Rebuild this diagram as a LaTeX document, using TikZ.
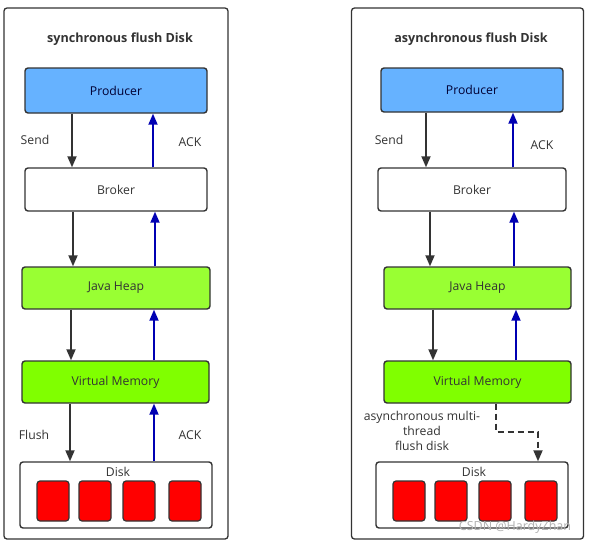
\documentclass[tikz,border=0pt]{standalone}
\usepackage{fontspec}
\setmainfont{Open Sans}
\usetikzlibrary{arrows.meta}
\definecolor{prodblue}{HTML}{66B2FF}
\definecolor{heapgreen}{HTML}{99FF33}
\definecolor{vmgreen}{HTML}{80FF00}
\definecolor{edge}{HTML}{333333}
\definecolor{ackblue}{HTML}{0000B3}
\definecolor{diskred}{HTML}{FF0000}
\tikzset{
  panel/.style={draw=edge, line width=1.3pt, rounded corners=3pt, fill=white},
  box/.style={draw=edge, line width=1.4pt, rounded corners=3pt, inner sep=0pt, font=\fontsize{12.2}{14}\selectfont, text=edge},
  redbox/.style={draw=edge, line width=1.2pt, rounded corners=3pt, fill=diskred, inner sep=0pt, minimum width=32pt, minimum height=40pt},
  downarr/.style={draw=edge, line width=1.8pt, -{Triangle[length=11pt,width=9pt]}},
  uparr/.style={draw=ackblue, line width=1.8pt, -{Triangle[length=11pt,width=9pt]}},
  lbl/.style={font=\fontsize{12.2}{14}\selectfont, text=edge, inner sep=0pt},
  ttl/.style={font=\bfseries\fontsize{12.6}{14}\selectfont, text=edge, inner sep=0pt},
}
\begin{document}
\begin{tikzpicture}[x=1pt,y=-1pt]
\useasboundingbox (0,0) rectangle (592,544);
% ===== Left panel =====
\node[panel, minimum width=224pt, minimum height=531pt, inner sep=0pt] (Lpanel) at (116,273.5) {};
\node[ttl] (Ltitle) at (120,39) {synchronous flush Disk};
\node[box, fill=prodblue, minimum width=182pt, minimum height=45pt, text=black!80!blue] (Lprod) at (116,90.5) {Producer};
\node[box, fill=white, minimum width=182pt, minimum height=43pt] (Lbroker) at (116,189.5) {Broker};
\node[box, fill=heapgreen, minimum width=188pt, minimum height=42pt] (Lheap) at (116,288) {Java Heap};
\node[box, fill=vmgreen, minimum width=187pt, minimum height=42pt] (Lvm) at (115.5,382) {Virtual Memory};
\node[box, fill=white, minimum width=192pt, minimum height=66pt] (Ldisk) at (116,495) {};
\node[lbl] (Ldisklbl) at (118,472) {Disk};
\node[redbox] (Lr1) at (53,501) {};
\node[redbox] (Lr2) at (95,501) {};
\node[redbox] (Lr3) at (139,501) {};
\node[redbox] (Lr4) at (185,501) {};
\coordinate (La1) at (72,0);
\draw[downarr] (Lprod.south -| La1) -- (Lbroker.north -| La1);
\coordinate (La2) at (73,0);
\draw[downarr] (Lbroker.south -| La2) -- (Lheap.north -| La2);
\coordinate (La3) at (71,0);
\draw[downarr] (Lheap.south -| La3) -- (Lvm.north -| La3);
\coordinate (La4) at (70,0);
\draw[downarr] (Lvm.south -| La4) -- (Ldisk.north -| La4);
\coordinate (Lb1) at (153,0);
\draw[uparr] (Lbroker.north -| Lb1) -- (Lprod.south -| Lb1);
\coordinate (Lb2) at (155,0);
\draw[uparr] (Lheap.north -| Lb2) -- (Lbroker.south -| Lb2);
\coordinate (Lb3) at (154,0);
\draw[uparr] (Lvm.north -| Lb3) -- (Lheap.south -| Lb3);
\draw[uparr] (Ldisk.north -| Lb3) -- (Lvm.south -| Lb3);
\node[lbl] (Lsend) at (35,140) {Send};
\node[lbl] (Lack1) at (190,142) {ACK};
\node[lbl] (Lflush) at (34,435) {Flush};
\node[lbl] (Lack2) at (190,435) {ACK};
% ===== Right panel =====
\node[panel, minimum width=232pt, minimum height=531pt, inner sep=0pt] (Rpanel) at (467.5,273.5) {};
\node[ttl] (Rtitle) at (471,39) {asynchronous flush Disk};
\node[box, fill=prodblue, minimum width=182pt, minimum height=44pt, text=black!80!blue] (Rprod) at (472,90) {Producer};
\node[box, fill=white, minimum width=188pt, minimum height=43pt] (Rbroker) at (472,189.5) {Broker};
\node[box, fill=heapgreen, minimum width=187pt, minimum height=42pt] (Rheap) at (477.5,288) {Java Heap};
\node[box, fill=vmgreen, minimum width=187pt, minimum height=42pt] (Rvm) at (477.5,382) {Virtual Memory};
\node[box, fill=white, minimum width=192pt, minimum height=66pt] (Rdisk) at (472,495) {};
\node[lbl] (Rdisklbl) at (474,472) {Disk};
\node[redbox] (Rr1) at (409,501) {};
\node[redbox] (Rr2) at (451,501) {};
\node[redbox] (Rr3) at (495,501) {};
\node[redbox] (Rr4) at (541,501) {};
\coordinate (Ra1) at (426,0);
\draw[downarr] (Rprod.south -| Ra1) -- (Rbroker.north -| Ra1);
\coordinate (Ra2) at (430,0);
\draw[downarr] (Rbroker.south -| Ra2) -- (Rheap.north -| Ra2);
\coordinate (Ra3) at (433,0);
\draw[downarr] (Rheap.south -| Ra3) -- (Rvm.north -| Ra3);
\coordinate (Rb1) at (513,0);
\draw[uparr] (Rbroker.north -| Rb1) -- (Rprod.south -| Rb1);
\coordinate (Rb2) at (514,0);
\draw[uparr] (Rheap.north -| Rb2) -- (Rbroker.south -| Rb2);
\coordinate (Rb3) at (516,0);
\draw[uparr] (Rvm.north -| Rb3) -- (Rheap.south -| Rb3);
\coordinate (Rd1) at (496,432);
\coordinate (Rd2) at (538,432);
\draw[downarr, dashed, dash pattern=on 6pt off 4pt] (Rvm.south -| Rd1) -- (Rd1) -- (Rd2) -- (Rdisk.north -| Rd2);
\node[lbl] (Rsend) at (389,140) {Send};
\node[lbl] (Rack1) at (542,145) {ACK};
\node[lbl, align=center, font=\fontsize{12.2}{14.8}\selectfont] (Rasync) at (422,431) {asynchronous multi-\\thread\\flush disk};
\node[lbl, text=gray!60, font=\fontsize{12.5}{14}\selectfont] (wm) at (515,527) {CSDN @HardyZhan};
\end{tikzpicture}
\end{document}
